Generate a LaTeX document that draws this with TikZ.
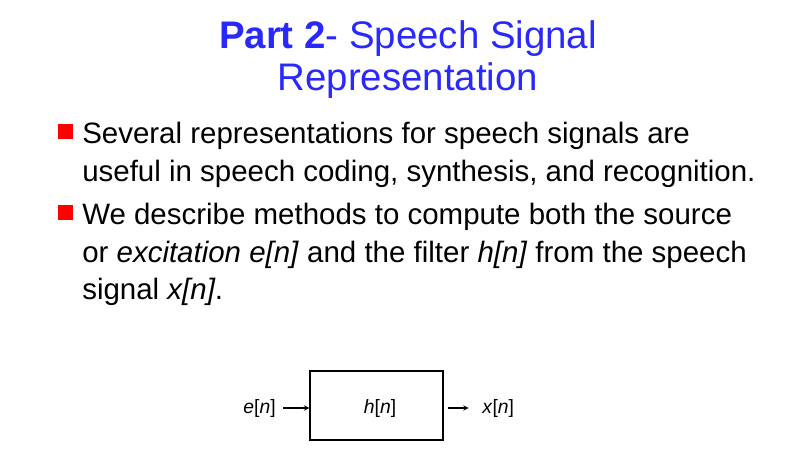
\documentclass[tikz,border=0pt]{standalone}
\usepackage{fontspec}
\setmainfont{Liberation Sans}
\definecolor{tblue}{RGB}{40,40,255}
\definecolor{bred}{RGB}{255,0,0}
\begin{document}
\begin{tikzpicture}[x=0.75pt,y=-0.75pt,
  title/.style={text=tblue,font=\fontsize{28.8}{32}\selectfont,inner sep=0},
  body/.style={anchor=base west,font=\fontsize{22.1}{26}\selectfont,inner sep=0},
  small/.style={font=\fontsize{14.5}{17}\selectfont,inner sep=0},
  bul/.style={fill=bred,draw=none,minimum size=11.25pt,inner sep=0}]
\useasboundingbox (0,0) rectangle (811,457);
\node[title,anchor=base] (t1) at (408,48) {\textbf{Part 2}- Speech Signal};
\node[title,anchor=base] (t2) at (408,90) {Representation};
\node[bul] (b1) at (65.5,131) {};
\node[body] (l1) at (82,143) {Several representations for speech signals are};
\node[body] (l2) at (82,181) {useful in speech coding, synthesis, and recognition.};
\node[bul] (b2) at (65.5,212) {};
\node[body] (l3) at (82,224) {We describe methods to compute both the source};
\node[body] (l4) at (82,262) {or \textit{excitation e[n]} and the filter \textit{h[n]} from the speech};
\node[body] (l5) at (82,299) {signal \textit{x[n]}.};
\node[draw,line width=1pt,minimum width=99.75pt,minimum height=51.75pt,inner sep=0] (box) at (376.5,405.5) {};
\node[small] (hn) at (380,408) {\textit{h}[\textit{n}]};
\node[small,anchor=east] (en) at (276,408) {\textit{e}[\textit{n}]};
\node[small,anchor=west] (xn) at (482,408) {\textit{x}[\textit{n}]};
\draw[-stealth,line width=0.8pt] (en.east)++(7,0) -- (box.west|-en.east) ;
\draw[-stealth,line width=0.8pt] (box.east|-xn.west)++(4,0) -- ([xshift=-10]xn.west);
\end{tikzpicture}
\end{document}
